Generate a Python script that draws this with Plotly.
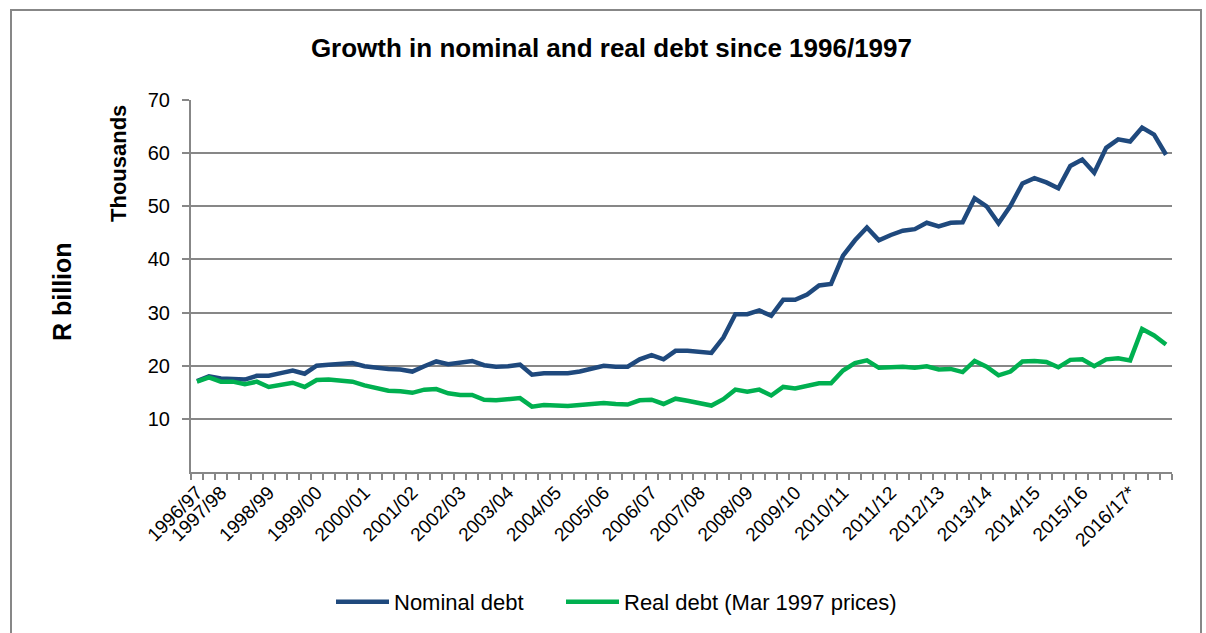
import pandas as pd
import plotly.graph_objects as go

# Quarter-end observations, Mar 1997 to Jun 2017
quarters = [p.strftime("%b-%y") for p in pd.period_range("1997Q1", "2017Q2", freq="Q")]

# R billion, in thousands
nominal_debt = [
    17.1, 18.0, 17.6, 17.6, 17.4, 18.1, 18.1, 18.6, 19.1, 18.5,
    20.0, 20.2, 20.4, 20.5, 19.9, 19.6, 19.4, 19.3, 18.9, 19.9,
    20.8, 20.3, 20.5, 20.9, 20.1, 19.8, 19.9, 20.2, 18.3, 18.6,
    18.6, 18.6, 18.9, 19.4, 20.0, 19.8, 19.8, 21.2, 22.0, 21.2,
    22.8, 22.8, 22.7, 22.4, 25.3, 29.7, 29.7, 30.4, 29.4, 32.4,
    32.4, 33.4, 35.1, 35.4, 40.7, 43.6, 46.0, 43.6, 44.6, 45.4,
    45.7, 46.9, 46.2, 46.9, 47.0, 51.5, 50.0, 46.8, 50.1, 54.3,
    55.3, 54.5, 53.4, 57.6, 58.8, 56.3, 61.0, 62.6, 62.2, 64.8,
    63.5, 59.7,
]
real_debt = [
    17.0, 17.8, 17.0, 17.0, 16.5, 17.0, 16.0, 16.3, 16.8, 16.0,
    17.3, 17.4, 17.3, 17.0, 16.3, 15.7, 15.3, 15.2, 14.9, 15.5,
    15.6, 14.8, 14.5, 14.5, 13.6, 13.5, 13.6, 13.9, 12.3, 12.6,
    12.5, 12.4, 12.6, 12.7, 13.0, 12.8, 12.7, 13.5, 13.6, 12.8,
    13.8, 13.4, 13.0, 12.5, 13.7, 15.5, 15.1, 15.5, 14.4, 16.0,
    15.7, 16.2, 16.7, 16.7, 19.1, 20.5, 21.0, 19.6, 19.7, 19.8,
    19.6, 19.9, 19.3, 19.4, 18.8, 20.9, 19.8, 18.2, 18.9, 20.8,
    20.9, 20.7, 19.7, 21.1, 21.2, 19.9, 21.2, 21.4, 21.0, 26.9,
    25.7, 24.0,
]

# Fiscal-year labels and the quarter each one sits under
fy_labels = [
    "1996/97", "1997/98", "1998/99", "1999/00", "2000/01", "2001/02",
    "2002/03", "2003/04", "2004/05", "2005/06", "2006/07", "2007/08",
    "2008/09", "2009/10", "2010/11", "2011/12", "2012/13", "2013/14",
    "2014/15", "2015/16", "2016/17*",
]
fy_quarters = ["Mar-97"] + [f"Sep-{(1997 + k) % 100:02d}" for k in range(20)]

y_ticks = [10, 20, 30, 40, 50, 60, 70]

label_at = dict(zip(fy_quarters, fy_labels))
tick_text = [label_at.get(q, "") for q in quarters]

FONT = "Liberation Sans, Arial, sans-serif"
GRID = "#878787"

fig = go.Figure()
fig.add_trace(go.Scatter(
    x=quarters, y=nominal_debt, mode="lines", name="Nominal debt",
    line=dict(color="#1F497D", width=4.5), legend="legend",
))
fig.add_trace(go.Scatter(
    x=quarters, y=real_debt, mode="lines", name="Real debt (Mar 1997 prices)",
    line=dict(color="#00B050", width=4.5), legend="legend2",
))

legend_style = dict(
    orientation="h", xref="container", yref="container",
    xanchor="left", y=0.049, yanchor="middle",
    font=dict(size=22), itemwidth=53, bgcolor="rgba(0,0,0,0)",
)

fig.update_layout(
    width=1206, height=633,
    margin=dict(l=191, r=34, t=100, b=161),
    paper_bgcolor="white", plot_bgcolor="white",
    font=dict(family=FONT, size=20, color="black"),
    showlegend=True,
    legend=dict(x=(337 - 6) / 1206, **legend_style),
    legend2=dict(x=(567 - 6) / 1206, **legend_style),
    title=dict(
        text="<b>Growth in nominal and real debt since 1996/1997</b>",
        xref="container", yref="container", x=0.507, xanchor="center",
        y=1 - 48 / 633, yanchor="middle",
        font=dict(family=FONT, size=26, color="black"),
    ),
)

fig.update_xaxes(
    type="category", categoryorder="array", categoryarray=quarters,
    tickmode="array", tickvals=quarters, ticktext=tick_text,
    tickson="boundaries", ticks="outside", ticklen=6, tickwidth=1.5,
    tickcolor=GRID, tickangle=-45, tickfont=dict(size=19),
    showline=True, linecolor=GRID, linewidth=2,
    showgrid=False, zeroline=False,
    range=[-0.5, len(quarters) - 0.5],
)
fig.update_yaxes(
    range=[0, 70], tickmode="array", tickvals=y_ticks,
    ticks="outside", ticklen=7, tickwidth=1.5, tickcolor=GRID,
    ticklabelstandoff=8, tickfont=dict(size=20),
    showline=True, linecolor=GRID, linewidth=2,
    showgrid=True, gridcolor=GRID, gridwidth=2, zeroline=False,
)

# Axis captions
fig.add_annotation(
    text="<b>R billion</b>", textangle=-90, showarrow=False,
    xref="paper", yref="paper", x=(62 - 191) / 981, y=(472 - 292) / 372,
    xanchor="center", yanchor="middle", font=dict(size=25),
)
fig.add_annotation(
    text="<b>Thousands</b>", textangle=-90, showarrow=False,
    xref="paper", yref="paper", x=(118 - 191) / 981, y=(472 - 164) / 372,
    xanchor="center", yanchor="middle", font=dict(size=22),
)

# Chart-area frame
fig.add_shape(
    type="rect", xref="paper", yref="paper",
    x0=(11 - 191) / 981, x1=(1201 - 191) / 981,
    y0=(472 - 660) / 372, y1=(472 - 10) / 372,
    line=dict(color=GRID, width=2), fillcolor="rgba(0,0,0,0)", layer="below",
)

fig.write_html("out.html")
